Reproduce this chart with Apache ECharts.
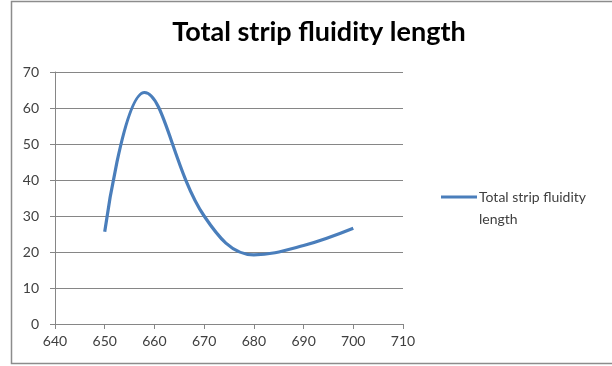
<!DOCTYPE html>
<html>
<head>
<meta charset="utf-8">
<script src="https://cdn.jsdelivr.net/npm/echarts@6/dist/echarts.min.js"></script>
<style>
html,body{margin:0;padding:0;background:#fff;}
#c{width:612px;height:366px;}
</style>
</head>
<body>
<div id="c"></div>
<script>
const titleText = 'Total strip fluidity length';
const seriesName = 'Total strip fluidity length';
const xValues = [650, 658, 670, 680, 690, 700];
const yValues = [25.6, 64.3, 30.0, 19.2, 21.8, 26.6];

const chart = echarts.init(document.getElementById('c'));
const axisColor = '#868686';
const labelColor = '#404040';
chart.setOption({
  animation: false,
  backgroundColor: '#fff',
  title: {
    text: titleText,
    left: 314, textAlign: 'center', top: 14,
    textStyle: { fontFamily: 'Lato', fontWeight: 'bold', fontSize: 27, color: '#000' }
  },
  graphic: [{
    type: 'rect', shape: { x: 11.5, y: 1.5, width: 610, height: 362 },
    style: { fill: 'none', stroke: '#8c8c8c', lineWidth: 1.5 }, silent: true, z: -1
  }],
  legend: {
    left: 441, top: 164, padding: 0,
    itemWidth: 36, itemHeight: 12, itemGap: 0,
    icon: 'path://M0,0 L36,0 L36,3 L0,3 Z',
    data: [seriesName],
    formatter: function () { return ' \nTotal strip fluidity\nlength'; },
    textStyle: { fontFamily: 'Lato', fontSize: 14, color: labelColor, lineHeight: 22, padding: [0, 0, 0, -3] }
  },
  grid: { left: 55, right: 209, top: 72, bottom: 42 },
  xAxis: {
    type: 'value', min: 640, max: 710, interval: 10,
    axisLine: { show: true, lineStyle: { color: axisColor, width: 1 } },
    axisTick: { show: true, length: 5, lineStyle: { color: axisColor } },
    splitLine: { show: false },
    axisLabel: { fontFamily: 'Lato', fontSize: 14, color: labelColor, margin: 10 }
  },
  yAxis: {
    type: 'value', min: 0, max: 70, interval: 10,
    axisLine: { show: true, lineStyle: { color: axisColor, width: 1 } },
    axisTick: { show: true, length: 5, lineStyle: { color: axisColor } },
    splitLine: { show: true, lineStyle: { color: axisColor, width: 1 } },
    axisLabel: { fontFamily: 'Lato', fontSize: 14, color: labelColor, margin: 16 }
  },
  series: [{
    name: seriesName,
    type: 'line',
    data: xValues.map((x, i) => [x, yValues[i]]),
    smooth: 0.4,
    showSymbol: false,
    symbol: 'none',
    lineStyle: { color: '#4a7ebb', width: 3.2 },
    itemStyle: { color: '#4a7ebb' }
  }]
});
</script>
</body>
</html>
